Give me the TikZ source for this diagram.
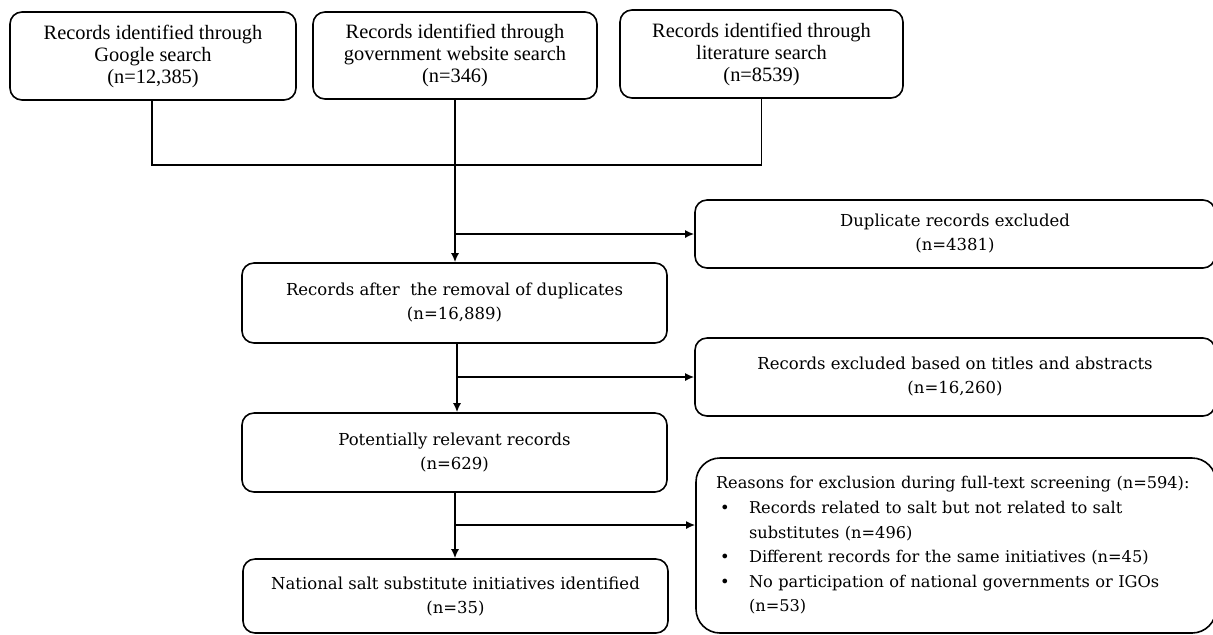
\documentclass[tikz,border=0pt]{standalone}
\usepackage{fontspec}
\setmainfont{Liberation Serif}
\newfontfamily\bodyfont{DejaVu Serif}
\usetikzlibrary{arrows.meta}
\tikzset{
  topbox/.style={draw, line width=0.8pt, rounded corners=6pt, align=center,
    font=\fontsize{10.2pt}{11pt}\selectfont, inner sep=0pt},
  midbox/.style={draw, line width=0.8pt, rounded corners=6pt, align=center,
    font=\bodyfont\fontsize{8.25pt}{12pt}\selectfont, inner sep=0pt},
  bigbox/.style={draw, line width=0.8pt, rounded corners=12pt, align=left,
    font=\bodyfont\fontsize{8.1pt}{12.3pt}\selectfont, inner ysep=0pt, inner xsep=10pt},
  conn/.style={line width=0.8pt},
  arr/.style={line width=0.8pt, -{Latex[length=4.5pt,width=4pt]}}
}
\begin{document}
\begin{tikzpicture}[x=0.5pt,y=-0.5pt]
\useasboundingbox (0,0) rectangle (1213,634);
% top row
\node[topbox, minimum width=143pt, minimum height=44pt] (goo) at (153,56)
  {Records identified through\\Google search\\(n=12,385)};
\node[topbox, minimum width=142pt, minimum height=43.5pt] (gov) at (455,55.5)
  {Records identified through\\government website search\\(n=346)};
\node[topbox, minimum width=141.5pt, minimum height=44pt] (lit) at (761.5,54)
  {Records identified through\\literature search\\(n=8539)};
% main column
\node[midbox, minimum width=212.5pt, minimum height=40pt] (rec) at (454.5,303)
  {Records after\ \ the removal of duplicates\\(n=16,889)};
\node[midbox, minimum width=212.5pt, minimum height=39.5pt] (pot) at (454.5,452.5)
  {Potentially relevant records\\(n=629)};
\node[midbox, minimum width=212.5pt, minimum height=37pt] (nat) at (455.5,596)
  {National salt substitute initiatives identified\\(n=35)};
% right column
\node[midbox, minimum width=260pt, minimum height=34pt] (dup) at (955,234)
  {Duplicate records excluded\\(n=4381)};
\node[midbox, minimum width=260pt, minimum height=39pt] (tit) at (955,377)
  {Records excluded based on titles and abstracts\\(n=16,260)};
\node[bigbox, minimum height=87.5pt, text width=240pt] (rea) at (956,545.5)
  {\mbox{Reasons for exclusion during full-text screening (n=594):}\\
   \makebox[16.5pt][l]{\hspace{2pt}•}\mbox{Records related to salt but not related to salt}\\
   \hspace*{16.5pt}substitutes (n=496)\\
   \makebox[16.5pt][l]{\hspace{2pt}•}\mbox{Different records for the same initiatives (n=45)}\\
   \makebox[16.5pt][l]{\hspace{2pt}•}\mbox{No participation of national governments or IGOs}\\
   \hspace*{16.5pt}(n=53)};
% connectors
\coordinate (jn) at (455,165);
\draw[conn] (goo.south -| 152,0) |- (jn) -| (lit.south);
\draw[arr] (gov.south) -- (gov.south |- rec.north);
\draw[arr] (dup.west -| gov.south) -- (dup.west);
\coordinate (s2) at (457,0);
\draw[arr] (rec.south -| s2) -- (pot.north -| s2);
\draw[arr] (tit.west -| s2) -- (tit.west);
\coordinate (b3) at (455,525);
\draw[arr] (pot.south -| b3) -- (nat.north -| b3);
\draw[arr] (b3) -- (b3 -| rea.west);
\end{tikzpicture}
\end{document}
